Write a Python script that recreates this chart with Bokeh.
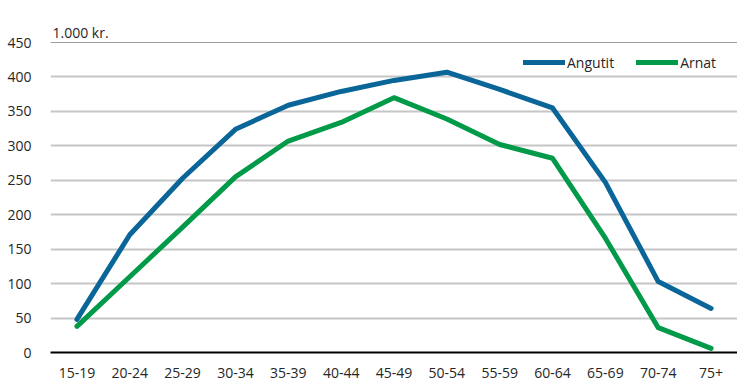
from bokeh.plotting import figure
from bokeh.models import FactorRange, Range1d, FixedTicker, Span, Label, Legend, LegendItem
from bokeh.embed import file_html
from bokeh.resources import INLINE

categories = ["15-19", "20-24", "25-29", "30-34", "35-39", "40-44", "45-49",
              "50-54", "55-59", "60-64", "65-69", "70-74", "75+"]
angutit = [48, 171, 253, 324, 359, 379, 395, 407, 382, 355, 247, 103, 64]
arnat = [38, 110, 182, 255, 307, 334, 370, 339, 302, 282, 166, 36, 6]
y_ticks = [0, 50, 100, 150, 200, 250, 300, 350, 400, 450]
unit_label = "1.000 kr."

FONT = "Open Sans"
FS = "14px"
TXT = "#262626"
BLUE = "#0a6699"
GREEN = "#009a48"

p = figure(width=737, height=384, x_range=FactorRange(*categories, range_padding=0),
           y_range=Range1d(0, 482), output_backend="svg", toolbar_location=None,
           min_border_left=50, min_border_right=0, min_border_top=20, min_border_bottom=32)
p.outline_line_color = None

p.yaxis.ticker = FixedTicker(ticks=y_ticks)
p.yaxis.axis_line_color = None
p.yaxis.major_tick_line_color = None
p.yaxis.minor_tick_line_color = None
p.yaxis.major_label_standoff = 13
p.yaxis.major_label_text_font = FONT
p.yaxis.major_label_text_font_size = FS
p.yaxis.major_label_text_color = TXT

p.xaxis.axis_line_color = "black"
p.xaxis.axis_line_width = 2
p.xaxis.major_tick_line_color = None
p.xaxis.minor_tick_line_color = None
p.xaxis.major_label_standoff = 9
p.xaxis.major_label_text_font = FONT
p.xaxis.major_label_text_font_size = FS
p.xaxis.major_label_text_color = TXT

p.xgrid.grid_line_color = None
p.ygrid.ticker = FixedTicker(ticks=y_ticks[1:-1])
p.ygrid.grid_line_color = "#c6c6c6"
p.ygrid.grid_line_width = 2

p.add_layout(Span(location=450, dimension="width", line_color="#9a9a9a", line_width=1))

r1 = p.line(categories, angutit, line_color=BLUE, line_width=5, line_cap="round", line_join="round")
r2 = p.line(categories, arnat, line_color=GREEN, line_width=5, line_cap="round", line_join="round")

p.add_layout(Label(x=0, y=464, x_offset=2, text=unit_label, text_font=FONT,
                   text_font_size=FS, text_color=TXT, text_baseline="middle"))

legend = Legend(items=[LegendItem(label="Angutit", renderers=[r1]),
                       LegendItem(label="Arnat", renderers=[r2])],
                orientation="horizontal", location=(473, 280),
                padding=0, margin=0, spacing=22, glyph_width=42, glyph_height=20,
                label_height=20, label_standoff=2, label_text_font=FONT,
                label_text_font_size=FS, label_text_color=TXT,
                background_fill_alpha=0, border_line_alpha=0)
p.add_layout(legend)

open("out.html", "w").write(file_html(p, INLINE))
